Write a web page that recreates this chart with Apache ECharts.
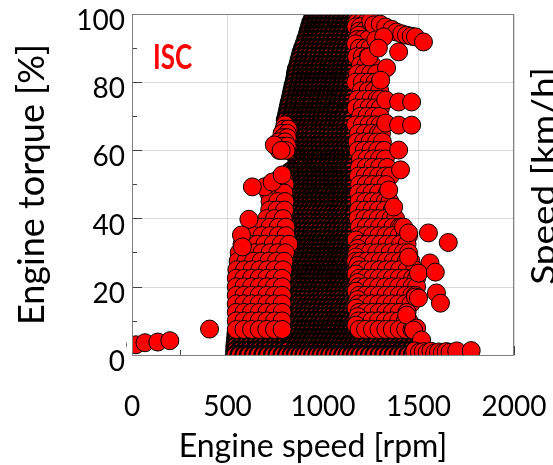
<!DOCTYPE html>
<html><head><meta charset="utf-8">
<script src="https://cdn.jsdelivr.net/npm/echarts@6/dist/echarts.min.js"></script>
<style>html,body{margin:0;padding:0;background:#fff}#c{width:553px;height:465px}</style>
</head><body><div id="c"></div><script>
// Engine torque levels [%] (rows of the cloud, top to bottom)
const torqueRows = [100,98.75,97.5,96.25,95,93.75,92.5,91.25,90,88.75,87.5,86.25,85,83.75,82.5,81.25,80,78.75,77.5,76.25,75,73.75,72.5,71.25,70,68.75,67.5,66.25,65,63.75,62.5,61.25,60,58.75,57.5,56.25,55,53.75,52.5,51.25,50,48.75,47.5,46.25,45,43.75,42.5,41.25,40,38.75,37.5,36.25,35,33.75,32.5,31.25,30,28.75,27.5,26.25,25,23.75,22.5,21.25,20,18.75,17.5,16.25,15,13.75,12.5,11.25,10,8.75,7.5,6.25,5,3.75,2.5,1.25,0];
// Engine speed [rpm] of the operating points on each torque row
const rpmRows = [
[955,975,996,1017,1038,1060,1081,1102,1123,1144,1163,1182],
[948,968,988,1008,1030,1051,1073,1094,1116,1137,1159,1181,1204],
[940,960,980,1002,1023,1046,1067,1090,1111,1134,1156,1178,1201,1226],
[933,953,974,995,1017,1039,1061,1083,1105,1127,1150,1172,1196],
[926,947,968,989,1011,1033,1056,1077,1100,1123,1146,1168,1191,1216,1244],
[920,941,962,984,1006,1027,1050,1073,1095,1117,1141,1163,1186],
[913,934,955,977,998,1021,1043,1066,1087,1110,1133,1156,1179,1206,1236],
[905,926,947,969,991,1013,1036,1057,1081,1103,1126,1148,1171],
[896,918,939,961,983,1006,1027,1051,1073,1096,1118,1141,1163,1191,1221,1246],
[889,910,932,954,976,998,1021,1043,1066,1088,1111,1133,1156],
[883,904,926,948,971,993,1016,1037,1061,1083,1106,1128,1151,1176,1206,1236],
[877,899,921,943,966,988,1011,1032,1056,1078,1101,1123,1146,1169],
[871,893,916,938,961,982,1006,1028,1051,1073,1096,1118,1141,1166,1196,1226,1258],
[864,886,908,931,953,976,998,1021,1043,1066,1088,1111,1133,1156],
[859,881,903,926,948,971,993,1016,1038,1061,1083,1106,1128,1151,1181,1214,1249,1280],
[856,878,901,923,946,968,991,1013,1036,1058,1081,1103,1126,1149],
[851,873,896,918,941,963,986,1008,1031,1053,1076,1098,1121,1143,1171,1206,1241,1273,1298],
[846,868,891,913,936,958,981,1003,1026,1048,1071,1093,1116,1139],
[841,863,886,908,931,953,976,998,1021,1043,1066,1088,1111,1136,1166,1201,1236,1268,1297],
[836,858,881,903,926,948,971,993,1016,1038,1061,1083,1106,1129,1151],
[831,853,876,898,921,943,966,988,1011,1033,1056,1078,1101,1126,1151,1181,1216,1251,1283,1300],
[826,848,871,893,916,938,961,983,1006,1028,1051,1073,1096,1119,1141],
[821,843,866,888,911,933,956,978,1001,1023,1046,1068,1091,1116,1141,1173,1206,1241,1273,1301],
[816,838,861,883,906,928,951,973,996,1018,1041,1063,1086,1109,1131,1153],
[811,833,856,878,901,923,946,968,991,1013,1036,1058,1081,1106,1131,1161,1196,1231,1266,1298],
[806,828,851,873,896,918,941,963,986,1008,1031,1053,1076,1098,1121,1146],
[801,826,849,871,893,916,939,961,983,1006,1029,1051,1073,1096,1119,1141,1171,1206,1241,1273,1300],
[796,818,841,863,886,908,931,953,976,998,1021,1043,1066,1088,1111,1136],
[786,813,836,859,881,903,926,949,971,993,1016,1039,1061,1083,1106,1129,1151,1186,1221,1256,1290,1306],
[791,813,836,858,881,903,926,948,971,993,1016,1038,1061,1083,1106,1128,1151],
[766,801,831,853,876,899,921,943,966,989,1011,1033,1056,1079,1101,1123,1146,1179,1213,1246,1281,1311],
[791,813,836,858,881,903,926,948,971,993,1016,1038,1061,1083,1106,1128,1151],
[771,806,836,859,881,903,926,949,971,993,1016,1039,1061,1083,1106,1129,1151,1183,1216,1251,1286,1319],
[861,883,906,928,951,973,996,1018,1041,1063,1086,1108,1131,1153],
[866,889,911,933,956,979,1001,1023,1046,1069,1091,1113,1136,1161,1196,1231,1263,1296,1326],
[866,888,911,933,956,978,1001,1023,1046,1068,1091,1113,1136,1158],
[861,883,906,929,951,973,996,1019,1041,1063,1086,1109,1131,1156,1191,1226,1261,1296,1336],
[831,853,876,898,921,943,966,988,1011,1033,1056,1078,1101,1123,1146],
[791,831,856,879,901,923,946,969,991,1013,1036,1059,1081,1103,1126,1151,1186,1221,1256,1291,1326,1352],
[761,796,836,858,881,903,926,948,971,993,1016,1038,1061,1083,1106,1128,1151],
[721,761,801,839,861,883,906,929,951,973,996,1019,1041,1063,1086,1109,1131,1156,1191,1226,1261,1296,1330],
[836,858,881,903,926,948,971,993,1016,1038,1061,1083,1106,1128,1151],
[716,756,796,836,859,881,903,926,949,971,993,1016,1039,1061,1083,1106,1129,1151,1186,1221,1256,1291,1336],
[846,868,891,913,936,958,981,1003,1026,1048,1071,1093,1116,1138,1160],
[723,763,801,839,861,883,906,929,951,973,996,1019,1041,1063,1086,1109,1131,1153,1189,1223,1259,1293,1326,1350],
[836,858,881,903,926,948,971,993,1016,1038,1061,1083,1106,1128,1151],
[721,759,799,836,859,881,903,926,949,971,993,1016,1039,1061,1083,1106,1129,1151,1186,1221,1256,1291,1326,1362],
[846,868,891,913,936,958,981,1003,1026,1048,1071,1093,1116,1138,1160],
[706,746,791,833,856,879,901,923,946,969,991,1013,1036,1059,1081,1103,1126,1149,1183,1219,1253,1289,1323,1356,1380],
[836,858,881,903,926,948,971,993,1016,1038,1061,1083,1106,1128,1151],
[681,723,766,806,841,863,886,909,931,953,976,999,1021,1043,1066,1089,1111,1133,1156,1191,1226,1261,1296,1331,1366,1400,1411],
[846,868,891,913,936,958,981,1003,1026,1048,1071,1093,1116,1138,1160],
[601,641,681,723,766,806,839,861,883,906,929,951,973,996,1019,1041,1063,1086,1109,1131,1153,1189,1223,1259,1293,1329,1363,1399,1431,1448],
[836,858,881,903,926,948,971,993,1016,1038,1061,1083,1106,1128,1151,1173],
[576,616,656,696,739,781,821,846,869,891,913,936,959,981,1003,1026,1049,1071,1093,1116,1139,1161,1196,1231,1266,1301,1336,1371,1406,1440],
[846,868,891,913,936,958,981,1003,1026,1048,1071,1093,1116,1138,1160,1182],
[561,601,641,681,723,763,803,839,861,883,906,929,951,973,996,1019,1041,1063,1086,1109,1131,1153,1176,1211,1246,1281,1316,1351,1386,1421,1448],
[836,858,881,903,926,948,971,993,1016,1038,1061,1083,1106,1128,1151,1173],
[556,596,636,676,716,756,796,833,856,879,901,923,946,969,991,1013,1036,1059,1081,1103,1126,1149,1171,1193,1229,1263,1299,1333,1369,1403,1436,1460],
[846,868,891,913,936,958,981,1003,1026,1048,1071,1093,1116,1138,1160,1182],
[549,589,629,669,709,749,791,831,853,876,899,921,943,966,989,1011,1033,1056,1079,1101,1123,1146,1169,1191,1226,1261,1296,1331,1366,1401,1441,1480],
[836,858,881,903,926,948,971,993,1016,1038,1061,1083,1106,1128,1151,1173],
[546,586,626,666,706,746,786,826,851,873,896,919,941,963,986,1009,1031,1053,1076,1099,1121,1143,1166,1189,1223,1259,1293,1329,1363,1399,1433,1469,1490],
[846,868,891,913,936,958,981,1003,1026,1048,1071,1093,1116,1138,1160,1182],
[546,586,626,666,706,746,786,826,849,871,893,916,939,961,983,1006,1029,1051,1073,1096,1119,1141,1163,1186,1221,1256,1291,1326,1361,1396,1431,1466,1490],
[836,858,881,903,926,948,971,993,1016,1038,1061,1083,1106,1128,1151,1173],
[546,586,626,666,706,746,786,826,851,873,896,919,941,963,986,1009,1031,1053,1076,1099,1121,1143,1166,1189,1223,1259,1293,1329,1363,1399,1433,1465,1484],
[846,868,891,913,936,958,981,1003,1026,1048,1071,1093,1116,1138,1160,1182],
[546,586,626,666,706,746,786,826,849,871,893,916,939,961,983,1006,1029,1051,1073,1096,1119,1141,1163,1186,1221,1256,1291,1326,1361,1396,1431,1460],
[836,858,881,903,926,948,971,993,1016,1038,1061,1083,1106,1128,1151,1173],
[546,586,626,666,706,746,786,826,851,873,896,919,941,963,986,1009,1031,1053,1076,1099,1121,1143,1166,1189,1223,1259,1293,1329,1363,1399,1440],
[846,868,891,913,936,958,981,1003,1026,1048,1071,1093,1116,1138,1160,1182],
[546,586,626,666,706,746,786,826,849,871,893,916,939,961,983,1006,1029,1051,1073,1096,1119,1141,1163,1186,1221,1256,1291,1326,1361,1396,1431,1450],
[836,858,881,903,926,948,971,993,1016,1038,1061,1083,1106,1128,1151,1173],
[546,586,626,666,706,746,786,826,851,873,896,919,941,963,986,1009,1031,1053,1076,1099,1121,1143,1166,1189,1223,1259,1293,1329,1363,1399,1433,1466,1474],
[548,572,598,622,648,672,698,722,748,772,798,822,846,868,891,913,936,958,981,1003,1026,1048,1071,1093,1116,1138,1160,1182,1208,1232,1258,1282,1308,1332,1358,1382,1408,1432,1458,1480],
[546,570,596,620,646,670,696,720,746,770,796,820,836,858,881,903,926,948,971,993,1016,1038,1061,1083,1106,1128,1151,1173,1196,1220,1246,1270,1296,1320,1346,1370,1396,1420,1446,1470,1490],
[544,568,593,618,643,668,693,718,743,768,793,818,846,868,891,913,936,958,981,1003,1026,1048,1071,1093,1116,1138,1160,1182,1208,1232,1258,1282,1308,1332,1358,1382,1408,1432,1458,1482,1500],
[542,566,591,616,641,666,691,716,741,766,791,816,836,858,881,903,926,948,971,993,1016,1038,1061,1083,1106,1128,1151,1173,1196,1220,1246,1270,1296,1320,1346,1370,1396,1420,1446,1470,1495],
[541,565,590,614,640,664,690,714,740,764,790,814,846,868,891,913,936,958,981,1003,1026,1048,1071,1093,1116,1138,1160,1182,1208,1232,1258,1282,1308,1332,1358,1382,1408,1432,1458,1482,1500],
[540,563,588,612,638,662,688,712,738,762,788,812,836,858,881,903,926,948,971,993,1016,1038,1061,1083,1106,1128,1151,1173,1196,1220,1246,1270,1296,1320,1346,1370,1396,1420,1446,1470,1490]
];
// Isolated points on the edges of the cloud
const edgeRpm    = [1250,1266,1300,1328,1360,1385,1412,1437,1462,1484,1526,1276,1318,1240,1290,1396,1333,1302,1328,1396,1464,1328,1396,1464,745,781,1396,1406,1344,693,734,786,630,1370,612,1422,573,578,1448,1552,1656,1560,1448,1500,1588,1594,1484,1500,1615,1438,1490,1474,1516,1480,1505,1525,1545,1565,1585,1605,1625,1645,1665,1700,1776,20,68,135,198,406];
const edgeTorque = [98,96.8,97,96.2,95.5,94.7,94.2,93.8,93.5,93.3,91.8,92.4,93.3,87.4,90,88.9,84.2,80.6,74.8,74.2,74.2,68,67.4,67.4,61.6,60,60.1,54.3,48.4,49.3,50.7,52.8,49.3,43.4,39.8,37.5,35.2,31.7,35.8,35.8,33,27,28.7,24,24.3,18.2,17,16.7,15.2,11.7,7.9,7.3,4.4,1.2,0.8,1,0.7,1.1,0.6,0.9,0.7,1,0.8,1.2,1.3,3,3.6,3.8,4.2,7.6];

// Split the operating points: the heavily used band (many overlapping visits, renders dark) and the rest
const lightData = [], coreData = [], edgeData = [];
rpmRows.forEach((row, i) => row.forEach(r => {
  const t = torqueRows[i];
  const inCore = (r <= 1170 && (t >= 68 || r >= 825)) || t <= 6.25;
  (inCore ? coreData : lightData).push([r, t]);
}));
edgeRpm.forEach((r, i) => edgeData.push([r, edgeTorque[i]]));

const FONT = 'Lato, "Open Sans", sans-serif';
const G = {left: 132, top: 14, width: 382, height: 341};
const dot = (bw) => ({color: '#ff0000', borderColor: '#000', borderWidth: bw, opacity: 1});
const base = {type: 'scatter', symbol: 'circle', symbolSize: 18, clip: false, silent: true,
  large: false, progressive: 0, emphasis: {disabled: true}};
const chart = echarts.init(document.getElementById('c'));
chart.setOption({
  animation: false,
  grid: {left: G.left, top: G.top, width: G.width, height: G.height, containLabel: false, outerBoundsMode: 'none'},
  xAxis: {
    type: 'value', min: 0, max: 2000, interval: 500,
    name: 'Engine speed [rpm]', nameLocation: 'middle', nameGap: 76,
    nameTextStyle: {fontFamily: FONT, fontSize: 32, color: '#000', padding: [0, 20, 0, 0]},
    axisLine: {show: true, lineStyle: {color: '#808080'}},
    axisTick: {show: true, inside: true, length: 9, lineStyle: {color: '#404040'}},
    minorTick: {show: true, splitNumber: 2, length: 5, lineStyle: {color: '#404040'}},
    splitLine: {show: true, lineStyle: {color: '#d9d9d9'}},
    axisLabel: {margin: 38, fontFamily: FONT, fontSize: 28, color: '#000', formatter: v => String(v)}
  },
  yAxis: {
    type: 'value', min: 0, max: 100, interval: 20,
    name: 'Engine torque [%]', nameLocation: 'middle', nameGap: 82,
    nameTextStyle: {fontFamily: FONT, fontSize: 36, color: '#000'},
    axisLine: {show: true, lineStyle: {color: '#808080'}},
    axisTick: {show: true, inside: true, length: 10, lineStyle: {color: '#404040'}},
    minorTick: {show: true, splitNumber: 2, length: 5, lineStyle: {color: '#404040'}},
    splitLine: {show: true, lineStyle: {color: '#d9d9d9'}},
    axisLabel: {margin: 7, fontFamily: FONT, fontSize: 28, color: '#000', verticalAlign: 'top', lineHeight: 14, formatter: v => String(v)}
  },
  series: [
    Object.assign({}, base, {data: coreData, itemStyle: dot(2.4)}),
    Object.assign({}, base, {data: lightData, itemStyle: dot(1)}),
    Object.assign({}, base, {data: edgeData, itemStyle: dot(1)})
  ],
  graphic: [
    {type: 'rect', z: 50, silent: true, shape: {x: G.left, y: 0, width: G.width, height: G.top}, style: {fill: '#fff'}},
    {type: 'rect', z: 50, silent: true, shape: {x: 127, y: G.top + G.height + 0.5, width: 395, height: 25}, style: {fill: '#fff'}},
    {type: 'rect', z: 50, silent: true, shape: {x: 127, y: 320, width: G.left - 127, height: 40}, style: {fill: '#fff'}},
    {type: 'rect', z: 60, silent: true, shape: {x: G.left + 0.5, y: G.top + 0.5, width: G.width - 1, height: G.height}, style: {fill: 'none', stroke: '#808080', lineWidth: 1}},
    {type: 'text', z: 70, silent: true, x: 153, y: 40, scaleY: 1.35, style: {text: 'ISC', fill: '#ff0000', font: 'bold 26px Lato, "Open Sans", sans-serif', verticalAlign: 'top'}},
    {type: 'text', z: 70, silent: true, x: 544, y: 176, rotation: Math.PI / 2, scaleX: 1.12, style: {text: 'Speed [km/h]', fill: '#000', font: '33px Lato, "Open Sans", sans-serif', align: 'center', verticalAlign: 'middle'}}
  ]
});
</script></body></html>
